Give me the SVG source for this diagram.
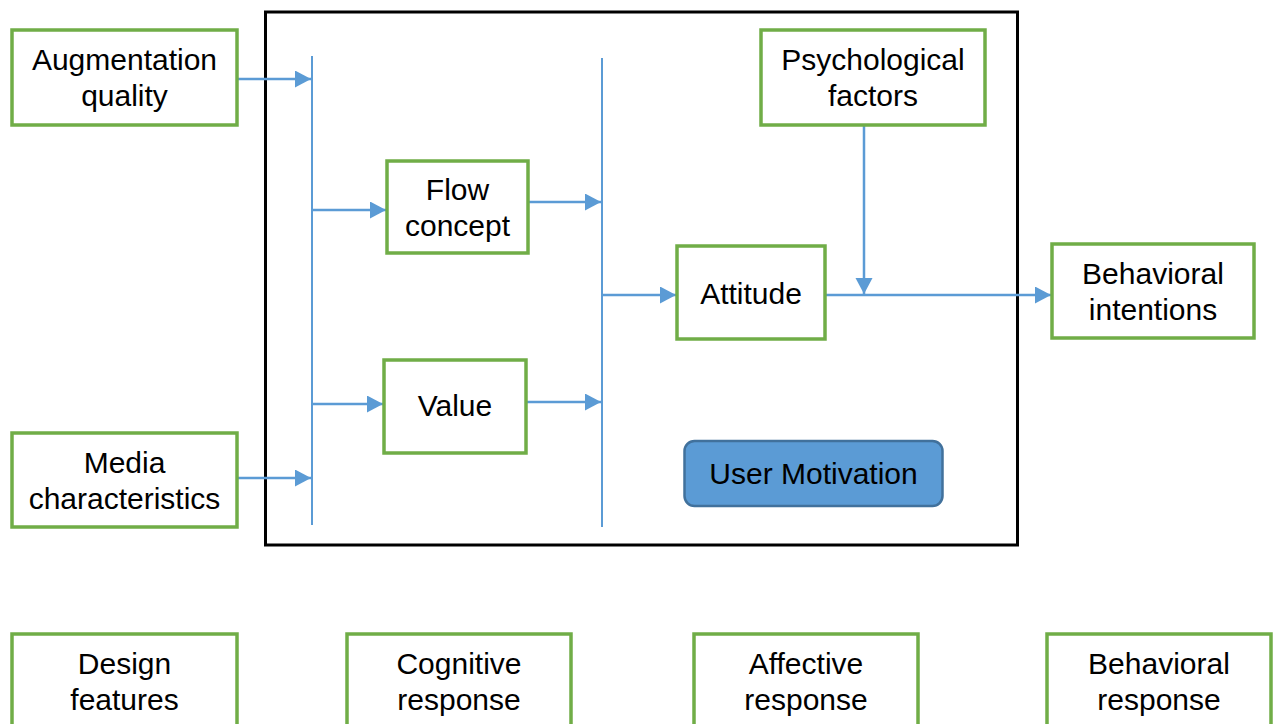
<svg xmlns="http://www.w3.org/2000/svg" width="1276" height="724" viewBox="0 0 1276 724">
  <style>
    .box { fill: #ffffff; stroke: #70ad47; stroke-width: 3.5; }
    .frame { fill: none; stroke: #000000; stroke-width: 3; }
    .bus { stroke: #5b9bd5; stroke-width: 2; fill: none; }
    .arrow { stroke: #5b9bd5; stroke-width: 2.5; fill: none; marker-end: url(#head); }
    .lbl { font-family: "Liberation Sans", Arial, Helvetica, sans-serif; font-size: 30px; fill: #000000; text-anchor: middle; }
    .pill { fill: #5b9bd5; stroke: #41719c; stroke-width: 2.5; }
  </style>
  <defs>
    <marker id="head" markerUnits="userSpaceOnUse" markerWidth="18" markerHeight="18" refX="16" refY="8.5" orient="auto">
      <path d="M0,0 L16,8.5 L0,17 Z" fill="#5b9bd5"/>
    </marker>
  </defs>

  <rect width="1276" height="724" fill="#ffffff"/>

  <!-- motivation frame -->
  <rect class="frame" x="265.5" y="12" width="752" height="533"/>

  <!-- connectors -->
  <g id="connectors">
    <line class="bus" x1="312" y1="56" x2="312" y2="525"/>
    <line class="bus" x1="602" y1="58" x2="602" y2="527"/>
    <line class="arrow" x1="237" y1="79" x2="311" y2="79"/>
    <line class="arrow" x1="237" y1="478" x2="311" y2="478"/>
    <line class="arrow" x1="312" y1="210" x2="386" y2="210"/>
    <line class="arrow" x1="312" y1="404" x2="383" y2="404"/>
    <line class="arrow" x1="528" y1="202" x2="601" y2="202"/>
    <line class="arrow" x1="526" y1="402" x2="601" y2="402"/>
    <line class="arrow" x1="602" y1="295" x2="676" y2="295"/>
    <line class="arrow" x1="825" y1="295" x2="1051" y2="295"/>
    <line class="arrow" x1="864" y1="125" x2="864" y2="294"/>
  </g>

  <g id="augmentation-quality">
    <rect class="box" x="12" y="30" width="225" height="95"/>
    <text class="lbl" x="124.5" y="70">Augmentation</text>
    <text class="lbl" x="124.5" y="106">quality</text>
  </g>

  <g id="media-characteristics">
    <rect class="box" x="12" y="433" width="225" height="94"/>
    <text class="lbl" x="124.5" y="473">Media</text>
    <text class="lbl" x="124.5" y="509">characteristics</text>
  </g>

  <g id="flow-concept">
    <rect class="box" x="387" y="161" width="141" height="92"/>
    <text class="lbl" x="457.5" y="200">Flow</text>
    <text class="lbl" x="457.5" y="236">concept</text>
  </g>

  <g id="value">
    <rect class="box" x="384" y="360" width="142" height="93"/>
    <text class="lbl" x="455" y="416">Value</text>
  </g>

  <g id="attitude">
    <rect class="box" x="677" y="246" width="148" height="93"/>
    <text class="lbl" x="751" y="304">Attitude</text>
  </g>

  <g id="psychological-factors">
    <rect class="box" x="761" y="30" width="224" height="95"/>
    <text class="lbl" x="873" y="70">Psychological</text>
    <text class="lbl" x="873" y="106">factors</text>
  </g>

  <g id="behavioral-intentions">
    <rect class="box" x="1052" y="244" width="202" height="94"/>
    <text class="lbl" x="1153" y="284">Behavioral</text>
    <text class="lbl" x="1153" y="320">intentions</text>
  </g>

  <g id="user-motivation">
    <rect class="pill" x="684.5" y="441" width="258" height="65" rx="10" ry="10"/>
    <text class="lbl" x="813.5" y="484">User Motivation</text>
  </g>

  <g id="design-features">
    <rect class="box" x="12" y="634" width="225" height="100"/>
    <text class="lbl" x="124.5" y="674">Design</text>
    <text class="lbl" x="124.5" y="710">features</text>
  </g>

  <g id="cognitive-response">
    <rect class="box" x="347" y="634" width="224" height="100"/>
    <text class="lbl" x="459" y="674">Cognitive</text>
    <text class="lbl" x="459" y="710">response</text>
  </g>

  <g id="affective-response">
    <rect class="box" x="694" y="634" width="224" height="100"/>
    <text class="lbl" x="806" y="674">Affective</text>
    <text class="lbl" x="806" y="710">response</text>
  </g>

  <g id="behavioral-response">
    <rect class="box" x="1047" y="634" width="224" height="100"/>
    <text class="lbl" x="1159" y="674">Behavioral</text>
    <text class="lbl" x="1159" y="710">response</text>
  </g>
</svg>
